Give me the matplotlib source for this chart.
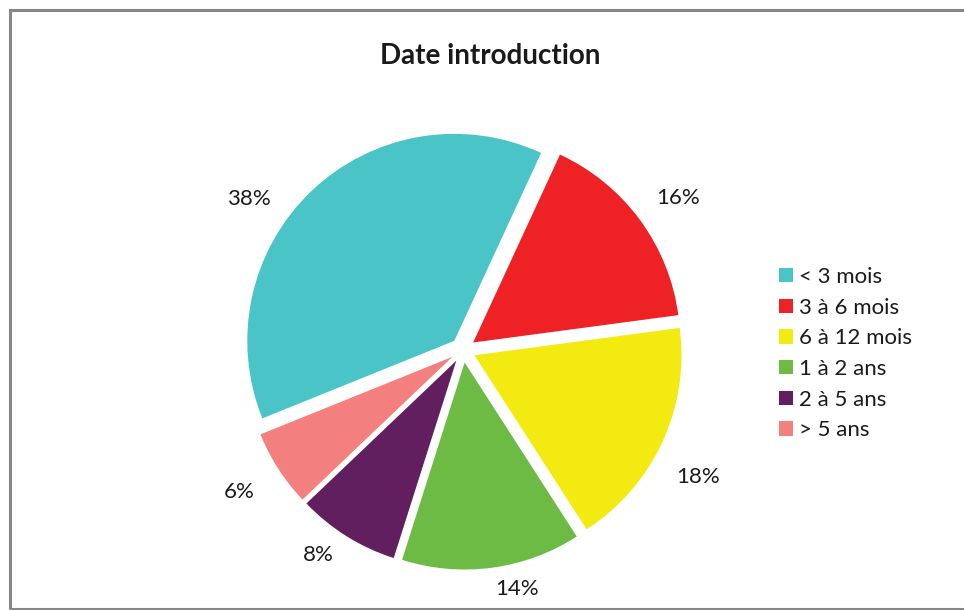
import matplotlib
matplotlib.use("Agg")
import matplotlib.pyplot as plt
from matplotlib.patches import Rectangle

categories = ["< 3 mois", "3 à 6 mois", "6 à 12 mois", "1 à 2 ans", "2 à 5 ans", "> 5 ans"]
values = [38, 16, 18, 14, 8, 6]
colors = ["#4BC4C8", "#EE2124", "#F2EA10", "#6DBB45", "#621F60", "#F37F7E"]
title = "Date introduction"

# layout: percentage label positions (in pie-radius units, Excel "best fit" placement)
label_pos = [(-1.035, 0.73), (1.04, 0.732), (1.135, -0.614),
             (0.261, -1.155), (-0.700, -0.990), (-1.082, -0.686)]

plt.rcParams['font.family'] = ['Lato', 'DejaVu Sans']

W, H = 964, 610
fig = plt.figure(figsize=(W / 100, H / 100), dpi=100)

# chart border
fig.patches.append(Rectangle((9.5 / W, 1 - 608.5 / H), (W + 10) / W, (608.5 - 9.5) / H,
                             transform=fig.transFigure, fill=False,
                             edgecolor="#878787", linewidth=2.2))

cx, cy, R = 463, 350, 207
half = 300
ax = fig.add_axes([(cx - half) / W, 1 - (cy + half) / H, 2 * half / W, 2 * half / H])
wedges, _ = ax.pie(values, colors=colors, startangle=202, counterclock=False,
                   explode=[0.061] * len(values),
                   wedgeprops=dict(linewidth=0))
for v, (lx, ly) in zip(values, label_pos):
    ax.text(lx, ly, f"{v}%", ha="center", va="center", fontsize=16, color="#1a1a1a")
lim = half / R
ax.set_xlim(-lim, lim)
ax.set_ylim(-lim, lim)
ax.set_aspect("equal")
ax.axis("off")

fig.text(490 / W, 1 - 56 / H, title, ha="center", va="center",
         fontsize=20, fontweight="bold", color="#1a1a1a")

leg = fig.legend(wedges, categories, loc="upper left",
                 bbox_to_anchor=(779 / W, 1 - 267 / H), frameon=False,
                 fontsize=16, handlelength=0.63, handleheight=0.63,
                 handletextpad=0.27, labelspacing=0.48, borderpad=0,
                 borderaxespad=0)
for t in leg.get_texts():
    t.set_color("#1a1a1a")

fig.savefig("out.png", dpi=100)
